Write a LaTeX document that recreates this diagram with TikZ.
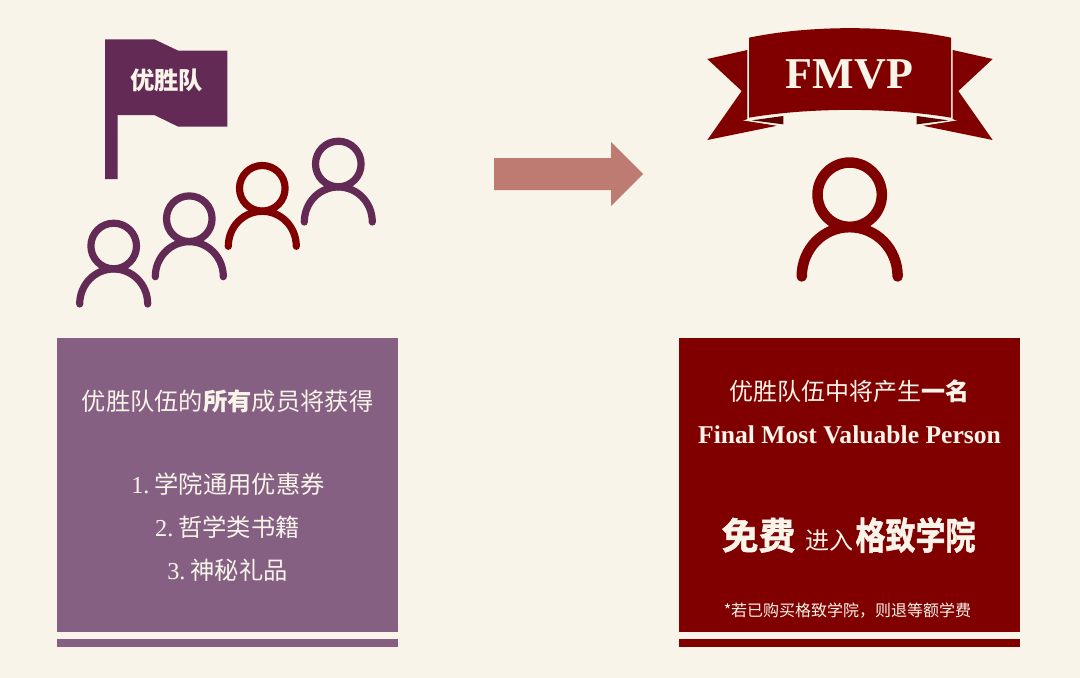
\documentclass[tikz,border=0pt]{standalone}
\usepackage{fontspec}
\usepackage{graphicx}
\setmainfont{Liberation Serif}
\newfontfamily\cjk{Noto Sans CJK SC}
\newfontfamily\cjkheavy[FakeBold=1.5]{Noto Sans CJK SC Bold}
\definecolor{bgcream}{HTML}{F8F4E9}
\definecolor{plum}{HTML}{622A55}
\definecolor{plumsoft}{HTML}{856083}
\definecolor{maroon}{HTML}{800000}
\definecolor{maroondark}{HTML}{5C0000}
\definecolor{arrowrose}{HTML}{BD7B72}
\newcommand{\fsz}[1]{\fontsize{#1}{#1}\selectfont}
\newcommand{\personicon}[5]{%
  \begin{scope}[shift={(#1,#2)},scale=#3,draw=#4,line width=#5,line cap=round]
    \draw (0,0) circle[radius=22.8];
    \draw (-34,58) .. controls (-34,38.5) and (-18.8,23) .. (0,23)
          .. controls (18.8,23) and (34,38.5) .. (34,58);
  \end{scope}}
\newcommand{\ribbonside}{%
  \fill[maroon] (172,105) -- (52,132) -- (155,228) -- (52,375) -- (262,332) -- (165,316) -- (172,312) -- cycle;
  \fill[maroondark] (185,316) -- (280,303) -- (280,328) -- cycle;
  \draw[bgcream,line width=0.7pt] (174.5,105) -- (174.5,314) -- (165,316) -- (262,331);
}
\tikzset{
  x=1pt,y=-1pt,
  label text/.style={text=bgcream,inner sep=0pt,anchor=center},
}
\begin{document}
\begin{tikzpicture}
\useasboundingbox (0,0) rectangle (1080,678);
\fill[bgcream] (0,0) rectangle (1080,678);
% flag
\fill[plum] (105,39.3) -- (154.3,39.3) -- (178.3,50.7) -- (227.3,50.7) -- (227.3,126.7) -- (178.3,126.7) -- (154.3,115) -- (117.7,115) -- (117.7,179) -- (105,179) -- cycle;
\node[label text] (flagtext) at (166.5,80) {\cjk\bfseries\fsz{24.3}优胜队};
% people
\personicon{113.7}{246}{1}{plum}{7.2pt}
\personicon{189.3}{218.7}{1}{plum}{7.2pt}
\personicon{262.3}{188.3}{1}{maroon}{7.2pt}
\personicon{338.3}{164}{1}{plum}{7.2pt}
% arrow
\fill[arrowrose] (494,158) -- (611,158) -- (611,142) -- (643,174) -- (611,206) -- (611,190) -- (494,190) -- cycle;
% ribbon
\begin{scope}[shift={(690,15)},scale=0.33333]
  \ribbonside
  \begin{scope}[shift={(960,0)},xscale=-1]
    \ribbonside
  \end{scope}
  \fill[maroon] (177,68) .. controls (360,30) and (600,30) .. (783,68) -- (783,308) .. controls (600,277) and (360,277) .. (177,308) -- cycle;
\end{scope}
\node[label text] (fmvp) at (849.5,74.5) {\bfseries\fsz{44}FMVP};
\personicon{849.7}{194.7}{1.41}{maroon}{10.5pt}
% left panel
\fill[plumsoft] (57,338) rectangle (398,632);
\fill[plumsoft] (57,638.5) rectangle (398,646.5);
\node[label text] (l1) at (227.5,401) {\cjk\fsz{24.3}优胜队伍的{\bfseries 所有}成员将获得};
\node[label text] (l2) at (228,484) {\fsz{24.3}1.\hspace{5pt}\cjk 学院通用优惠券};
\node[label text] (l3) at (227.5,527) {\fsz{24.3}2.\hspace{5pt}\cjk 哲学类书籍};
\node[label text] (l4) at (227.5,570) {\fsz{24.3}3.\hspace{5pt}\cjk 神秘礼品};
% right panel
\fill[maroon] (679,338) rectangle (1020,632);
\fill[maroon] (679,638.5) rectangle (1020,646.5);
\node[label text] (r1) at (849.5,391) {\cjk\fsz{24}优胜队伍中将产生{\bfseries 一名}};
\node[label text] (r2) at (849.5,435) {\bfseries\fsz{25.6}Final Most Valuable Person};
\node[label text] (r3) at (848.5,535) {{\cjkheavy\fsz{37}免费}\hspace{10pt}{\cjk\fsz{24}进入}\hspace{2pt}\scalebox{0.8}[1]{\cjkheavy\fsz{37.5}格致学院}};
\node[label text] (r4) at (847.5,610.5) {\cjk\fsz{16}*若已购买格致学院\char"FF0C 则退等额学费};
\end{tikzpicture}
\end{document}
